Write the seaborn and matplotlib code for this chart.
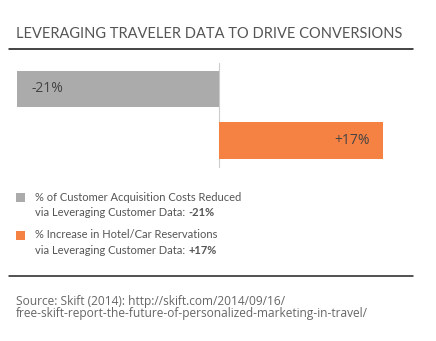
import matplotlib
matplotlib.use("Agg")
import matplotlib.pyplot as plt
import seaborn as sns
import pandas as pd
from matplotlib.patches import Rectangle
from matplotlib.lines import Line2D

categories = ["Customer Acquisition Costs Reduced", "Hotel/Car Reservations Increase"]
values = [-21, 17]
bar_labels = ["-21%", "+17%"]
colors = ["#ababab", "#f58142"]
legend_line1 = ["% of Customer Acquisition Costs Reduced", "% Increase in Hotel/Car Reservations"]
legend_line2 = ["via Leveraging Customer Data: ", "via Leveraging Customer Data: "]
legend_bold = ["-21%", "+17%"]
title = "LEVERAGING TRAVELER DATA TO DRIVE CONVERSIONS"
source = ["Source: Skift (2014): http://skift.com/2014/09/16/",
          "free-skift-report-the-future-of-personalized-marketing-in-travel/"]

W, H = 436, 341
sns.set_theme(style="white")
plt.rcParams['font.family'] = ['Lato', 'DejaVu Sans']

fig = plt.figure(figsize=(W / 100, H / 100), dpi=100)

def fx(px):
    return px / W

def fy(py):
    return 1 - py / H

# axes placement: x from 17 (value -21) to 413, y from 63 to 168
ppu = (219 - 17) / 21.0
x_left_px, x_right_px = 17, 413
y_top_px, y_bot_px = 63, 168
ax = fig.add_axes([fx(x_left_px), fy(y_bot_px), fx(x_right_px) - fx(x_left_px), (y_bot_px - y_top_px) / H])

df = pd.DataFrame({"cat": categories, "val": values})
sns.barplot(data=df, y="cat", x="val", hue="cat", palette=colors, orient="h",
            width=0.7, ax=ax, legend=False, saturation=1)
for p in ax.patches:
    p.set_edgecolor("none")

ax.set_xlim(-21, (x_right_px - 219) / ppu)
ax.set_ylim(1 + 27.5 / 51.5, -26 / 51.5)
ax.axvline(0, color="#cccccc", lw=0.8, zorder=0)
ax.set_axis_off()

# bar labels
ax.text(values[0] + 15 / ppu, 0, bar_labels[0], ha="left", va="center",
        fontsize=10, color="#444444", family=["Open Sans", "DejaVu Sans"])
ax.text(values[1] - 13 / ppu, 1, bar_labels[1], ha="right", va="center",
        fontsize=10, color="#444444", family=["Open Sans", "DejaVu Sans"])

# title and rules
fig.text(fx(16), fy(34), title, ha="left", va="center", fontsize=10.55, color="#555555")
fig.add_artist(Line2D([fx(9), fx(413)], [fy(49), fy(49)], color="#111111", lw=1.1))
fig.add_artist(Line2D([fx(9), fx(413)], [fy(276), fy(276)], color="#222222", lw=1.1))

# legend
renderer = fig.canvas.get_renderer()
sq_y = [193, 231]
line1_y = [197, 235]
line2_y = [212, 250]
for i in range(2):
    fig.add_artist(Rectangle((fx(16), fy(sq_y[i] + 9)), 9 / W, 9 / H,
                             facecolor=colors[i], edgecolor="none"))
    fig.text(fx(35), fy(line1_y[i]), legend_line1[i], ha="left", va="center",
             fontsize=8, color="#555555")
    t = fig.text(fx(35), fy(line2_y[i]), legend_line2[i], ha="left", va="center",
                 fontsize=8, color="#555555")
    bb = t.get_window_extent(renderer)
    fig.text(bb.x1 / W, fy(line2_y[i]), legend_bold[i], ha="left", va="center",
             fontsize=8, color="#555555", fontweight="bold")

# source
fig.text(fx(16), fy(301), source[0], ha="left", va="center", fontsize=8.6,
         color="#666666", family=["Open Sans", "DejaVu Sans"])
fig.text(fx(16), fy(314), source[1], ha="left", va="center", fontsize=8.6,
         color="#666666", family=["Open Sans", "DejaVu Sans"])

fig.savefig("out.png", dpi=100, facecolor="white")
